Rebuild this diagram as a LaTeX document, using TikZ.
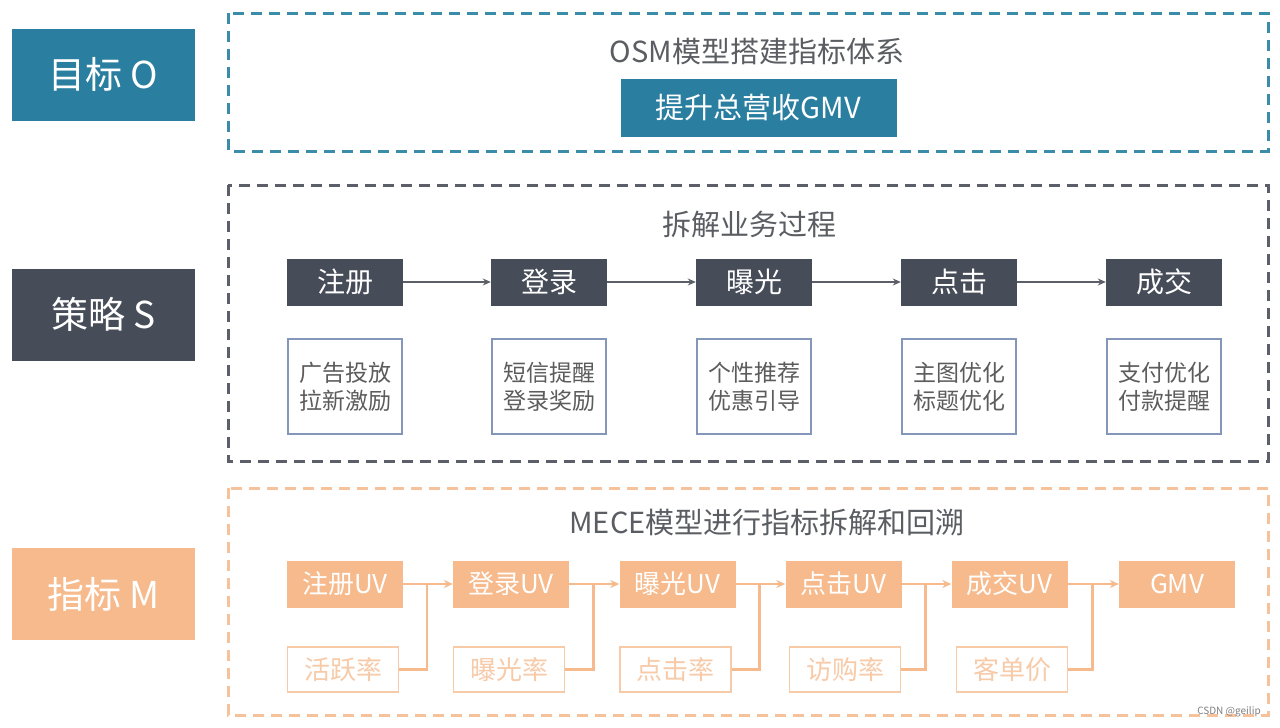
\documentclass[tikz,border=0pt]{standalone}
\usepackage{fontspec}
\setmainfont{Noto Sans CJK SC}
\usetikzlibrary{arrows.meta}
\definecolor{tealc}{HTML}{2A7FA0}
\definecolor{tealdash}{HTML}{3B8CA8}
\definecolor{darkc}{HTML}{464C58}
\definecolor{darkdash}{HTML}{5A5F68}
\definecolor{orangec}{HTML}{F6BA8C}
\definecolor{orangedash}{HTML}{F6C29C}
\definecolor{orangelt}{HTML}{F7CAA8}
\definecolor{titlec}{HTML}{5A5D62}
\definecolor{outlinec}{HTML}{8496BA}
\definecolor{greytext}{HTML}{5C5C5C}
\tikzset{
  lbl/.style={minimum width=183pt, minimum height=92pt, inner sep=0pt, text=white, font=\fontsize{37}{40}\selectfont},
  frame/.style={line width=3pt, dash pattern=on 11pt off 7pt},
  ttl/.style={inner sep=0pt, text=titlec, font=\fontsize{29}{32}\selectfont},
  sbox/.style={fill=darkc, minimum width=116pt, minimum height=47pt, inner sep=0pt, text=white, font=\fontsize{28}{30}\selectfont},
  obox/.style={draw=outlinec, line width=1.8pt, fill=white, minimum width=114pt, minimum height=95pt, inner sep=0pt, text=greytext, align=center, font=\fontsize{23}{28}\selectfont},
  ubox/.style={fill=orangec, minimum width=116pt, minimum height=47pt, inner sep=0pt, text=white, font=\fontsize{26}{28}\selectfont},
  rbox/.style={draw=orangelt, line width=1.8pt, fill=white, minimum width=111pt, minimum height=45pt, inner sep=0pt, text=orangelt, font=\fontsize{26}{28}\selectfont},
  darr/.style={draw=darkdash, line width=2.2pt, -{Stealth[length=8pt,width=7pt]}},
  oarr/.style={draw=orangec, line width=2.8pt, -{Stealth[length=9pt,width=8pt]}},
  oline/.style={draw=orangec, line width=2.8pt},
}
\begin{document}
\begin{tikzpicture}[x=1pt,y=-1pt]
\useasboundingbox[fill=white] (0,0) rectangle (1280,728);

% left labels
\node[lbl, fill=tealc] (lo) at (103.5,74.5) {目标 O};
\node[lbl, fill=darkc] (ls) at (103.5,314.5) {策略 S};
\node[lbl, fill=orangec] (lm) at (103.5,594) {指标 M};

% frames
\draw[frame, draw=tealdash] (228,13) rectangle (1268,151);
\draw[frame, draw=darkdash] (228,185) rectangle (1268,461);
\draw[frame, draw=orangedash] (228,488) rectangle (1268,715);

% objective
\node[ttl] (t1) at (757,51) {OSM模型搭建指标体系};
\node[fill=tealc, minimum width=276pt, minimum height=58pt, inner sep=0pt, text=white, font=\fontsize{29}{32}\selectfont] (gmv0) at (758.5,107.5) {提升总营收GMV};

% strategy
\node[ttl] (t2) at (749,225) {拆解业务过程};
\node[sbox] (s1) at (345,282) {注册};
\node[sbox] (s2) at (549,282) {登录};
\node[sbox] (s3) at (754,282) {曝光};
\node[sbox] (s4) at (959,282) {点击};
\node[sbox] (s5) at (1164,282) {成交};
\draw[darr] (s1) -- (s2);
\draw[darr] (s2) -- (s3);
\draw[darr] (s3) -- (s4);
\draw[darr] (s4) -- (s5);
\node[obox] (b1) at (345,386.5) {广告投放\\拉新激励};
\node[obox] (b2) at (549,386.5) {短信提醒\\登录奖励};
\node[obox] (b3) at (754,386.5) {个性推荐\\优惠引导};
\node[obox] (b4) at (959,386.5) {主图优化\\标题优化};
\node[obox] (b5) at (1164,386.5) {支付优化\\付款提醒};

% metrics
\node[ttl] (t3) at (767,523) {MECE模型进行指标拆解和回溯};
\node[ubox] (u1) at (345,584) {注册UV};
\node[ubox] (u2) at (511,584) {登录UV};
\node[ubox] (u3) at (677.5,584) {曝光UV};
\node[ubox] (u4) at (843.5,584) {点击UV};
\node[ubox] (u5) at (1009.5,584) {成交UV};
\node[ubox] (u6) at (1177,584) {GMV};
\node[rbox] (r1) at (343,669.5) {活跃率};
\node[rbox] (r2) at (509,669.5) {曝光率};
\node[rbox] (r3) at (675.5,669.5) {点击率};
\node[rbox] (r4) at (845,669.5) {访购率};
\node[rbox] (r5) at (1012,669.5) {客单价};
\foreach \a/\b in {1/2,2/3,3/4,4/5,5/6}{
  \path (u\a.east) -- (u\b.west) coordinate[pos=0.48] (j\a);
  \draw[oarr] (u\a) -- (u\b);
  \draw[oline] (r\a.east) -| (j\a);
}

% watermark
\node[inner sep=0pt, text=gray, font=\fontsize{10}{12}\selectfont] (wm) at (1229,712) {CSDN @geilip};
\end{tikzpicture}
\end{document}
